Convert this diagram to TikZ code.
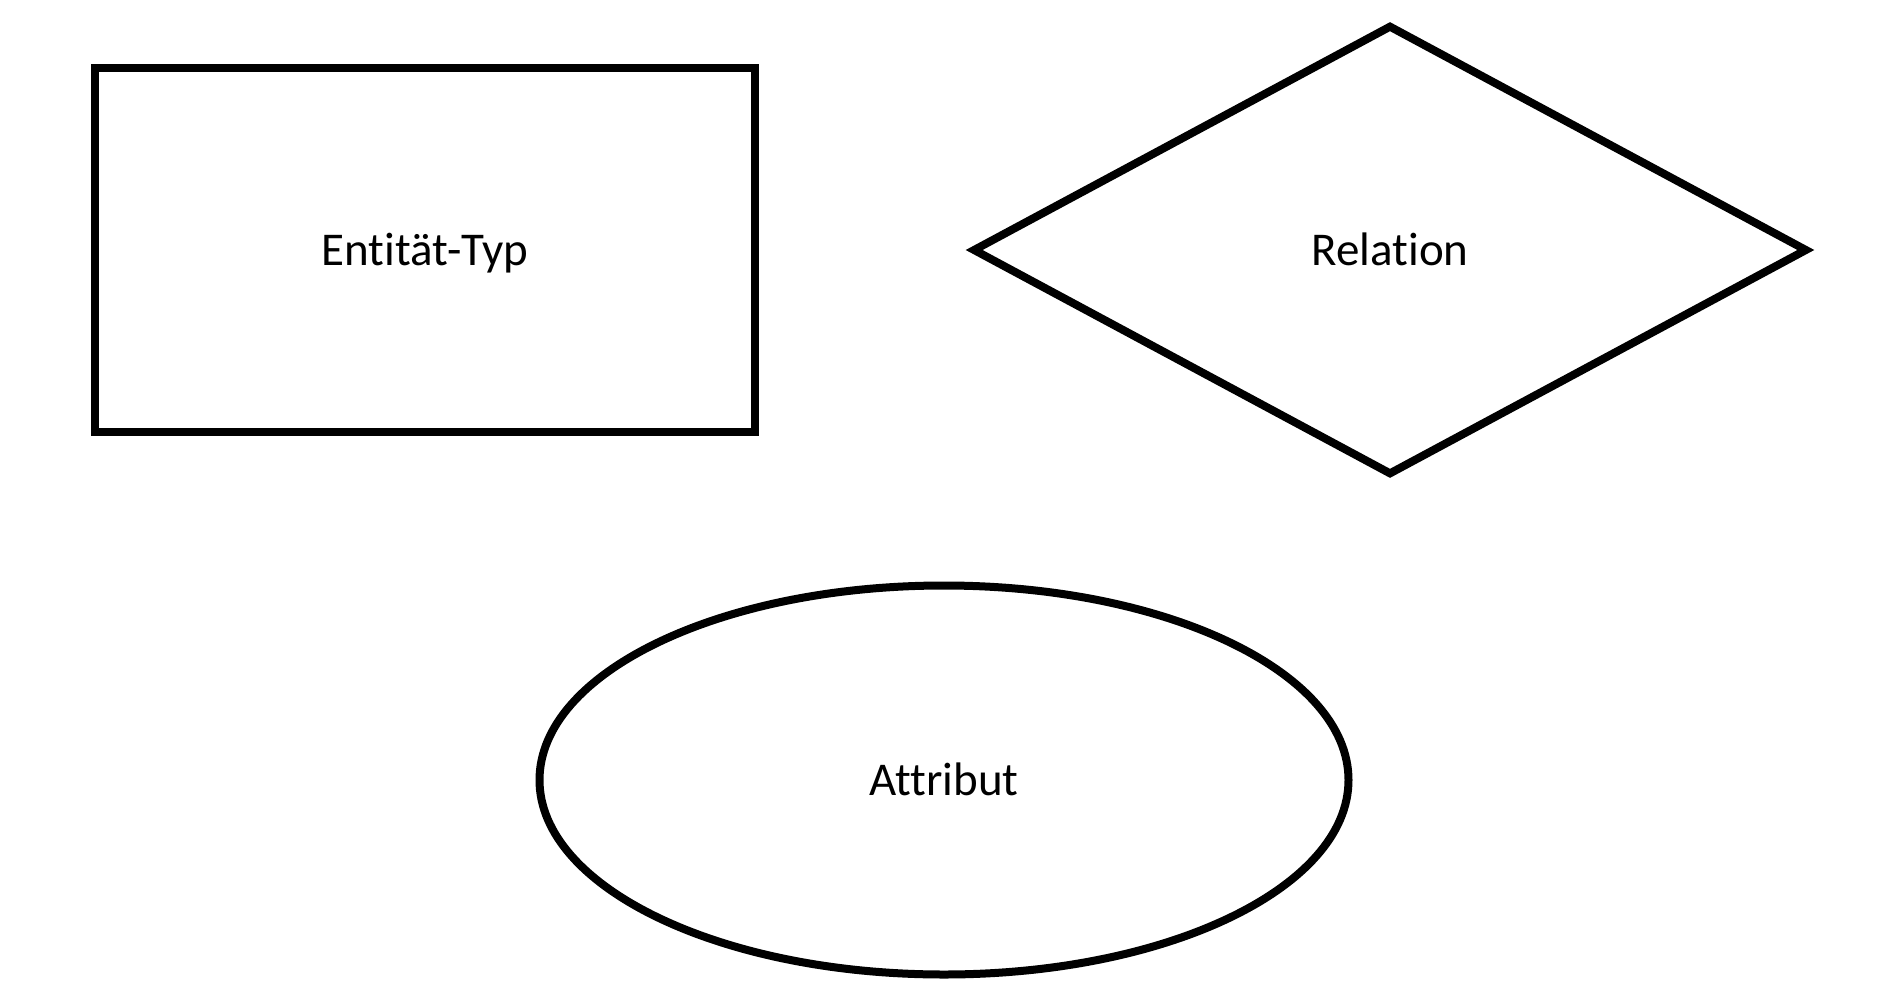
\documentclass[tikz,border=0pt]{standalone}
\usepackage{fontspec}
\setmainfont[Ligatures={NoCommon,NoContextual}]{Carlito}
\usetikzlibrary{shapes.geometric}
\begin{document}
\begin{tikzpicture}[x=1pt,y=1pt,
  shapebase/.style={draw=black, line width=8pt, inner sep=0pt,
    font=\fontsize{47}{56}\selectfont, text height=31pt, text depth=0pt},
  entitybox/.style={shapebase, rectangle, minimum width=660pt, minimum height=364.5pt},
  relbox/.style={shapebase, diamond, minimum width=835pt, minimum height=450pt},
  attrbox/.style={shapebase, ellipse, minimum width=809pt, minimum height=389pt}]
\useasboundingbox[fill=white] (0,0) rectangle (1877,-991);
\node[entitybox] (entity) at (425,-250) {Entität-Typ};
\node[relbox] (relation) at (1390,-250) {Relation};
\node[attrbox] (attribut) at (944,-780) {Attribut};
\end{tikzpicture}
\end{document}
